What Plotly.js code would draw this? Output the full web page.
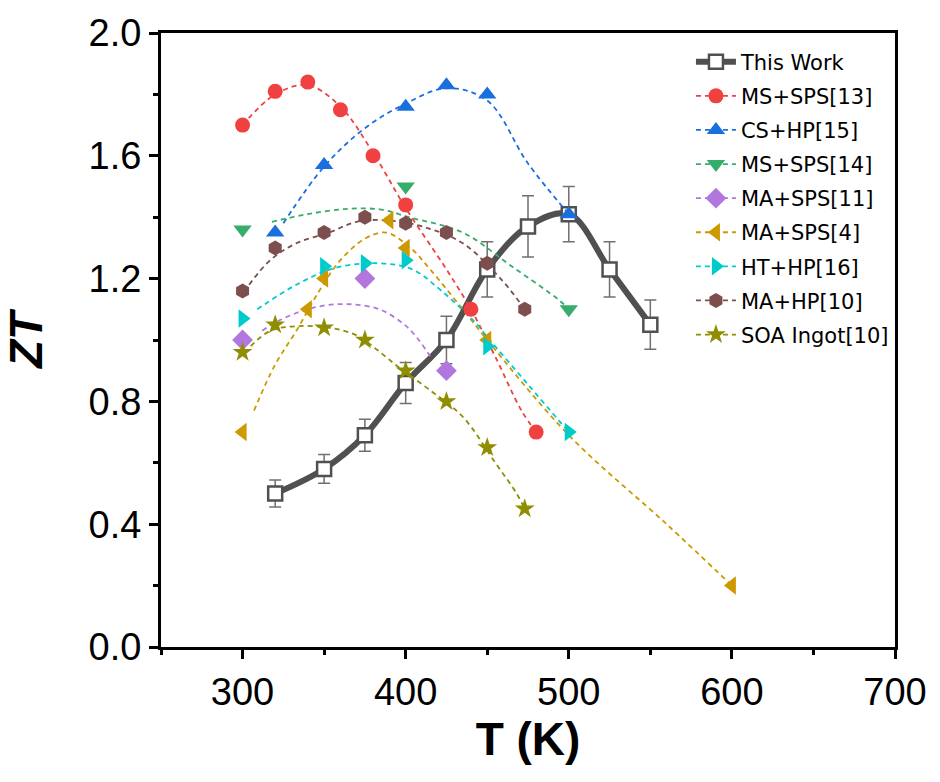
<!DOCTYPE html>
<html><head><meta charset="utf-8">
<script src="https://cdn.plot.ly/plotly-3.0.1.min.js"></script>
<style>body{margin:0;background:#fff}#chart{width:940px;height:782px}</style>
</head><body><div id="chart"></div>
<script>
// This Work
const twT = [320,350,375,400,425,450,475,500,525,550];
const twZT = [0.50,0.58,0.69,0.86,1.00,1.23,1.37,1.41,1.23,1.05];
const twErr = [0.044,0.047,0.052,0.067,0.077,0.09,0.10,0.09,0.09,0.08];

// Literature series (markers)
const ms13T = [300,320,340,360,380,400,440,480];
const ms13ZT = [1.70,1.81,1.84,1.75,1.60,1.44,1.10,0.70];
const cs15T = [320,350,400,425,450,500];
const cs15ZT = [1.35,1.57,1.76,1.83,1.80,1.41];
const ms14T = [300,400,500];
const ms14ZT = [1.36,1.50,1.10];
const ma11T = [300,375,425];
const ma11ZT = [1.00,1.20,0.90];
const ma4T = [300,340,350,390,400,450,600];
const ma4ZT = [0.70,1.10,1.20,1.39,1.30,1.00,0.20];
const ht16T = [300,350,375,400,450,500];
const ht16ZT = [1.07,1.24,1.25,1.26,0.98,0.70];
const ma10T = [300,320,350,375,400,425,450,473];
const ma10ZT = [1.16,1.30,1.35,1.40,1.38,1.35,1.25,1.10];
const soaT = [300,320,350,375,400,425,450,473];
const soaZT = [0.96,1.05,1.04,1.00,0.90,0.80,0.65,0.45];

// Fitted (dashed) curves
const ms13FitT = [300,320,340,360,380,400,425,440,455,471,480];
const ms13FitZT = [1.70,1.80,1.83,1.76,1.61,1.43,1.23,1.10,0.945,0.77,0.70];
const cs15FitT = [325,350,375,400,425,450,475,500];
const cs15FitZT = [1.38,1.565,1.69,1.77,1.82,1.78,1.575,1.41];
const ms14FitT = [318,340,364,385,402,435,465,494,500];
const ms14FitZT = [1.385,1.41,1.427,1.425,1.40,1.35,1.24,1.13,1.10];
const ma11FitT = [312,323,343,364,384,398,405,416];
const ma11FitZT = [1.03,1.065,1.105,1.117,1.10,1.055,1.02,0.94];
const ma4FitT = [307,320,333,347,360,375,388,403,415,435,450,500,560,600];
const ma4FitZT = [0.77,0.92,1.03,1.16,1.26,1.33,1.35,1.30,1.23,1.10,1.00,0.69,0.40,0.20];
const ht16FitT = [309,333,357,383,404,422,443,450,475,500];
const ht16FitZT = [1.10,1.18,1.235,1.25,1.23,1.16,1.055,1.01,0.855,0.70];
const ma10FitT = [304,317,333,353,370,388,410,435,459,473];
const ma10FitZT = [1.18,1.26,1.315,1.35,1.385,1.39,1.37,1.315,1.195,1.10];
const soaFitT = [305,317,333,353,370,382,396,414,435,455,468,473];
const soaFitZT = [0.98,1.03,1.045,1.04,1.015,0.97,0.91,0.84,0.75,0.60,0.50,0.45];

const names = ['MS+SPS[13]','CS+HP[15]','MS+SPS[14]','MA+SPS[11]','MA+SPS[4]','HT+HP[16]','MA+HP[10]','SOA Ingot[10]'];
const colors = ['#F14040','#1A6FDF','#37AD6B','#B177DE','#CC9900','#00CBCC','#7D4E4E','#8E8E00'];
const symbols = ['circle','triangle-up','triangle-down','diamond','triangle-left','triangle-right','hexagon','star'];
const sizes = [15,16,16,16,16,16,15,15];

const ptsX = [ms13T,cs15T,ms14T,ma11T,ma4T,ht16T,ma10T,soaT];
const ptsY = [ms13ZT,cs15ZT,ms14ZT,ma11ZT,ma4ZT,ht16ZT,ma10ZT,soaZT];
const fitX = [ms13FitT,cs15FitT,ms14FitT,ma11FitT,ma4FitT,ht16FitT,ma10FitT,soaFitT];
const fitY = [ms13FitZT,cs15FitZT,ms14FitZT,ma11FitZT,ma4FitZT,ht16FitZT,ma10FitZT,soaFitZT];

const dash = '5px,4px';
const traces = [];
traces.push({
  x: twT, y: twZT, name: 'This Work', mode: 'lines+markers', type: 'scatter', legendgroup: 'g0',
  line: {color: '#505050', width: 6, shape: 'spline', smoothing: 1},
  marker: {symbol: 'square', size: 14, color: '#ffffff', line: {color: '#505050', width: 2.5}},
  error_y: {type: 'data', array: twErr, visible: true, color: '#707070', thickness: 1.5, width: 6},
  cliponaxis: false
});
for (let i = 0; i < names.length; i++) {
  traces.push({x: fitX[i], y: fitY[i], mode: 'lines', type: 'scatter', showlegend: false,
    hoverinfo: 'skip', line: {color: colors[i], width: 1.8, dash: dash, shape: 'spline', smoothing: 1}});
}
for (let i = 0; i < names.length; i++) {
  traces.push({x: ptsX[i], y: ptsY[i], mode: 'markers', type: 'scatter', showlegend: false, name: names[i],
    marker: {symbol: symbols[i], size: sizes[i], color: colors[i], line: {width: 0}}, cliponaxis: false});
}
// legend entries
for (let i = 0; i < names.length; i++) {
  traces.push({x: [null], y: [null], mode: 'lines+markers', type: 'scatter', name: names[i],
    legendgroup: 'g' + (i + 1),
    line: {color: colors[i], width: 1.8, dash: dash},
    marker: {symbol: symbols[i], size: sizes[i], color: colors[i], line: {width: 0}}});
}

const tickFont = {family: 'Liberation Sans, Arial, sans-serif', size: 38, color: '#000'};
const titleFont = {family: 'Liberation Sans, Arial, sans-serif', size: 46, color: '#000'};
const layout = {
  width: 940, height: 782,
  margin: {l: 161, r: 45, t: 33, b: 135},
  paper_bgcolor: '#fff', plot_bgcolor: '#fff',
  showlegend: true,
  legend: {x: 0.722, y: 0.986, xanchor: 'left', yanchor: 'top', bgcolor: 'rgba(0,0,0,0)',
    font: {family: 'DejaVu Sans, sans-serif', size: 21, color: '#000'}, tracegroupgap: 3.8, itemwidth: 40},
  xaxis: {
    range: [250, 700], tickmode: 'linear', tick0: 300, dtick: 100,
    ticks: 'outside', ticklen: 9, tickwidth: 3, tickcolor: '#000',
    minor: {tick0: 250, dtick: 50, ticks: 'outside', ticklen: 5, tickwidth: 3, tickcolor: '#000'},
    showline: true, linewidth: 3, linecolor: '#000', mirror: true,
    showgrid: false, zeroline: false, tickfont: tickFont,
    title: {text: '<b>T (K)</b>', font: titleFont, standoff: 4}
  },
  yaxis: {
    range: [0, 2], tickmode: 'linear', tick0: 0, dtick: 0.4, tickformat: '.1f',
    ticks: 'outside', ticklen: 9, tickwidth: 3, tickcolor: '#000',
    minor: {dtick: 0.2, ticks: 'outside', ticklen: 5, tickwidth: 3, tickcolor: '#000'},
    showline: true, linewidth: 3, linecolor: '#000', mirror: true,
    showgrid: false, zeroline: false, tickfont: tickFont,
    title: {text: '<b><i>ZT</i></b>', font: titleFont, standoff: 40}
  }
};
Plotly.newPlot('chart', traces, layout, {displayModeBar: false, staticPlot: true});
</script>
</body></html>
